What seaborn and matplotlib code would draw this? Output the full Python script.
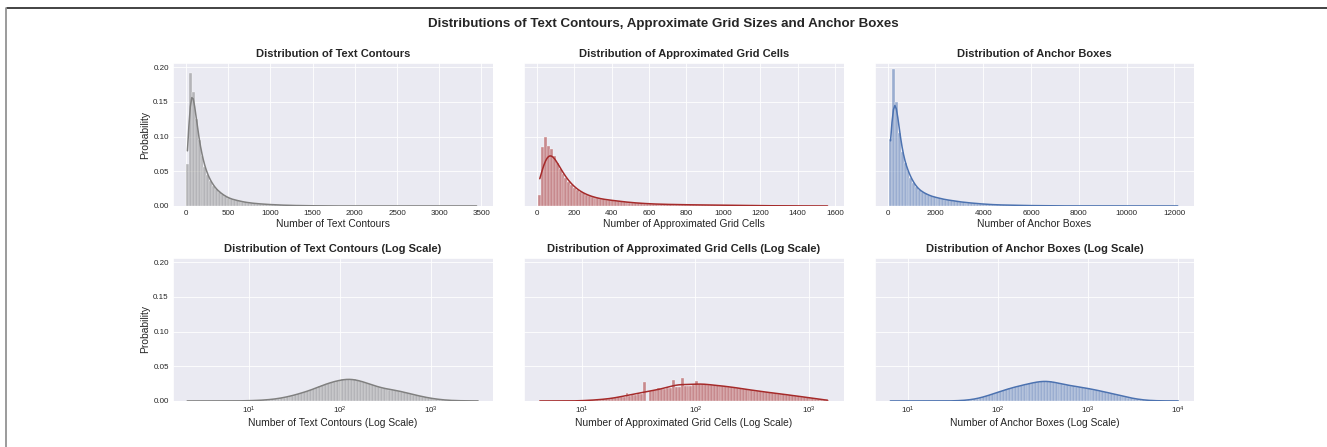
import numpy as np
import pandas as pd
import matplotlib
matplotlib.use("Agg")
import matplotlib.pyplot as plt
import seaborn as sns
from matplotlib.lines import Line2D
from matplotlib.ticker import MultipleLocator

# ---------------- data (per-bin probabilities) ----------------
N_BINS = 100
TAIL = 0.00005

# linear histograms: 100 equal bins over [min, max]
contour_range = (2, 3460)
contour_probs = [0.061, 0.192, 0.164, 0.125, 0.095, 0.072, 0.056, 0.044, 0.036, 0.029,
                 0.024, 0.020, 0.017, 0.014, 0.012, 0.010, 0.009, 0.008, 0.007, 0.006,
                 0.0053, 0.0047, 0.0042, 0.0037, 0.0033, 0.0030, 0.0027, 0.0024, 0.0021, 0.0019,
                 0.0017, 0.0015, 0.0013, 0.0012, 0.0010, 0.0009, 0.0008, 0.0007, 0.0006, 0.0005,
                 0.0004, 0.0004, 0.0003, 0.0003, 0.0002, 0.0002, 0.0002, 0.0001, 0.0001, 0.0001]

grid_range = (6, 1569)
grid_probs = [0.016, 0.085, 0.100, 0.086, 0.082, 0.072, 0.062, 0.053, 0.046, 0.040,
              0.034, 0.030, 0.026, 0.023, 0.020, 0.018, 0.016, 0.015, 0.013, 0.012,
              0.011, 0.010, 0.0095, 0.009, 0.0085, 0.008, 0.0075, 0.007, 0.0065, 0.006,
              0.0055, 0.005, 0.0047, 0.0044, 0.0041, 0.0038, 0.0035, 0.0033, 0.0031, 0.0029,
              0.0027, 0.0026, 0.0025, 0.0024, 0.0023, 0.0022, 0.0021, 0.0020, 0.0019, 0.0018,
              0.0018, 0.0017, 0.0017, 0.0016, 0.0016, 0.0015, 0.0015, 0.0014, 0.0014, 0.0013,
              0.0013, 0.0012, 0.0012, 0.0011, 0.0011, 0.0010, 0.0010, 0.0009, 0.0009, 0.0008,
              0.0008, 0.0007, 0.0007, 0.0006, 0.0006, 0.0005, 0.0005, 0.0004, 0.0004, 0.0003,
              0.0003, 0.0003, 0.0002, 0.0002, 0.0002, 0.0002, 0.0001, 0.0001, 0.0001, 0.0001,
              0.0001, 0.0001, 0.0001, 0.0001, 0.0001]

anchor_range = (60, 12200)
anchor_probs = [0.097, 0.197, 0.150, 0.105, 0.078, 0.062, 0.050, 0.041, 0.033, 0.027,
                0.023, 0.020, 0.018, 0.016, 0.014, 0.013, 0.012, 0.011, 0.010, 0.009,
                0.0085, 0.008, 0.007, 0.0065, 0.006, 0.0055, 0.005, 0.0046, 0.0042, 0.0038,
                0.0034, 0.0031, 0.0028, 0.0025, 0.0022, 0.0020, 0.0018, 0.0016, 0.0015, 0.0014,
                0.0013, 0.0012, 0.0011, 0.0010, 0.0009, 0.0008, 0.0007, 0.0006, 0.0006, 0.0005,
                0.0005, 0.0004, 0.0004, 0.0003, 0.0003, 0.0003, 0.0002, 0.0002, 0.0002, 0.0001,
                0.0001, 0.0001, 0.0001, 0.0001, 0.0001]

# log histograms: 100 equal bins in log10 space over [min, max]; values start at *_first
contour_log_range = (2, 3460)
contour_log_first = 18
contour_log_probs = [0.0002, 0.0002, 0.0003, 0.0004, 0.0005, 0.0006, 0.0008, 0.0010, 0.0012, 0.0015,
                     0.0019, 0.0023, 0.0028, 0.0034, 0.0041, 0.0049, 0.0058, 0.0068, 0.0078, 0.0090,
                     0.0102, 0.0115, 0.0128, 0.0142, 0.0156, 0.0170, 0.0185, 0.0210, 0.0225, 0.0240,
                     0.0255, 0.0270, 0.0280, 0.0290, 0.0300, 0.0310, 0.0318, 0.0320, 0.0318, 0.0310,
                     0.0300, 0.0290, 0.0275, 0.0260, 0.0245, 0.0230, 0.0215, 0.0200, 0.0190, 0.0180,
                     0.0172, 0.0165, 0.0160, 0.0153, 0.0145, 0.0135, 0.0125, 0.0113, 0.0102, 0.0092,
                     0.0082, 0.0072, 0.0062, 0.0053, 0.0045, 0.0038, 0.0031, 0.0025, 0.0020, 0.0016,
                     0.0012, 0.0009, 0.0007, 0.0005, 0.0004, 0.0003, 0.0002, 0.0002, 0.0001, 0.0001,
                     0.0001, 0.0001]

grid_log_range = (4.1, 1507)
grid_log_first = 14
grid_log_probs = [0.0003, 0.0005, 0.0007, 0.0009, 0.0011, 0.0014, 0.0017, 0.0020, 0.0024, 0.0028,
                  0.0033, 0.0038, 0.0044, 0.0050, 0.0057, 0.0064, 0.0120, 0.0075, 0.0082, 0.0090,
                  0.0096, 0.0102, 0.0280, 0.0000, 0.0150, 0.0156, 0.0162, 0.0180, 0.0172, 0.0178,
                  0.0185, 0.0190, 0.0300, 0.0198, 0.0203, 0.0330, 0.0212, 0.0216, 0.0220, 0.0223,
                  0.0290, 0.0250, 0.0245, 0.0240, 0.0235, 0.0232, 0.0228, 0.0224, 0.0220, 0.0215,
                  0.0210, 0.0205, 0.0200, 0.0195, 0.0188, 0.0182, 0.0175, 0.0168, 0.0160, 0.0155,
                  0.0150, 0.0144, 0.0138, 0.0132, 0.0127, 0.0122, 0.0116, 0.0110, 0.0105, 0.0100,
                  0.0095, 0.0090, 0.0085, 0.0080, 0.0074, 0.0068, 0.0062, 0.0056, 0.0050, 0.0044,
                  0.0038, 0.0032, 0.0026, 0.0020, 0.0015, 0.0010]

anchor_log_range = (6.2, 10500)
anchor_log_first = 22
anchor_log_probs = [0.0002, 0.0003, 0.0005, 0.0007, 0.0010, 0.0014, 0.0019, 0.0026, 0.0034, 0.0044,
                    0.0056, 0.0069, 0.0083, 0.0097, 0.0111, 0.0125, 0.0140, 0.0155, 0.0168, 0.0180,
                    0.0192, 0.0203, 0.0213, 0.0223, 0.0233, 0.0243, 0.0252, 0.0262, 0.0272, 0.0280,
                    0.0287, 0.0290, 0.0288, 0.0282, 0.0274, 0.0265, 0.0255, 0.0245, 0.0235, 0.0227,
                    0.0220, 0.0213, 0.0207, 0.0201, 0.0195, 0.0188, 0.0180, 0.0172, 0.0164, 0.0155,
                    0.0146, 0.0137, 0.0128, 0.0118, 0.0108, 0.0098, 0.0088, 0.0078, 0.0068, 0.0058,
                    0.0049, 0.0040, 0.0032, 0.0025, 0.0019, 0.0014, 0.0010, 0.0007, 0.0005, 0.0003,
                    0.0002, 0.0001, 0.0001, 0.0001, 0.0001, 0.0001, 0.0001, 0.0001]

titles = ["Distribution of Text Contours", "Distribution of Approximated Grid Cells",
          "Distribution of Anchor Boxes"]
xlabels = ["Number of Text Contours", "Number of Approximated Grid Cells", "Number of Anchor Boxes"]
suptitle = "Distributions of Text Contours, Approximate Grid Sizes and Anchor Boxes"
colors = ["gray", "brown", "#4C72B0"]

# ---------------- style ----------------
sns.set_theme(style="darkgrid", rc={"grid.linewidth": 0.6, "axes.linewidth": 0.6})
plt.rcParams["font.family"] = ["Liberation Sans", "DejaVu Sans"]
plt.rcParams["axes.titleweight"] = "bold"

TICK = 5.8
LABEL = 7.4
SUB = 8.0


def bin_table(rng, probs, first, log):
    lo, hi = (np.log10(rng[0]), np.log10(rng[1])) if log else (rng[0], rng[1])
    w = (hi - lo) / N_BINS
    idx = np.concatenate([[0], first + np.arange(len(probs)), [N_BINS - 1]])
    vals = np.concatenate([[TAIL], np.asarray(probs, float), [TAIL]])
    centers = lo + (idx + 0.5) * w
    if log:
        centers = 10 ** centers
    return pd.DataFrame({"value": centers, "prob": vals}), (lo, hi)


fig, axes = plt.subplots(2, 3, figsize=(13.27, 4.47), dpi=100, sharey=True)
fig.subplots_adjust(left=0.1304, right=0.900, top=0.859, bottom=0.103, wspace=0.097, hspace=0.364)

linear = [(contour_range, contour_probs, 0), (grid_range, grid_probs, 0), (anchor_range, anchor_probs, 0)]
logs = [(contour_log_range, contour_log_probs, contour_log_first),
        (grid_log_range, grid_log_probs, grid_log_first),
        (anchor_log_range, anchor_log_probs, anchor_log_first)]
lin_xlim = [(-151, 3634), (-72, 1647), (-549, 12832)]
log_xlim = [(1.45, 4840), (3.05, 2028), (4.3, 15240)]
bw_lin = [0.22, 0.30, 0.20]
bw_log = [0.35, 0.35, 0.35]

for row, specs in enumerate([linear, logs]):
    for col, (rng, probs, first) in enumerate(specs):
        ax = axes[row, col]
        is_log = row == 1
        df, br = bin_table(rng, probs, first, is_log)
        sns.histplot(data=df, x="value", weights="prob", bins=N_BINS, binrange=br,
                     stat="count", kde=True, color=colors[col], log_scale=is_log, ax=ax,
                     kde_kws={"bw_adjust": (bw_log if is_log else bw_lin)[col]},
                     line_kws={"linewidth": 1.1})
        ax.set_xlim(*(log_xlim if is_log else lin_xlim)[col])
        t = titles[col] + (" (Log Scale)" if is_log else "")
        xl = xlabels[col] + (" (Log Scale)" if is_log else "")
        ax.set_title(t, fontsize=SUB, fontweight="bold", pad=4)
        ax.set_xlabel(xl, fontsize=LABEL, labelpad=1)
        ax.set_ylabel("Probability" if col == 0 else "", fontsize=LABEL, labelpad=2)
        ax.tick_params(labelsize=TICK, length=0, pad=3)
        if is_log:
            ax.minorticks_off()

axes[0, 0].yaxis.set_major_locator(MultipleLocator(0.05))
axes[0, 0].set_ylim(0, 0.206)

fig.suptitle(suptitle, fontsize=9.6, fontweight="bold", y=0.947, va="center")

# frame lines of the screenshot
fig.add_artist(Line2D([7 / 1327, 1.0], [1 - 8 / 447, 1 - 8 / 447], color="#222222", linewidth=1.2))
fig.add_artist(Line2D([6 / 1327, 6 / 1327], [0, 1 - 8 / 447], color="#8a8a8a", linewidth=1.2))

fig.savefig("out.png", dpi=100)
